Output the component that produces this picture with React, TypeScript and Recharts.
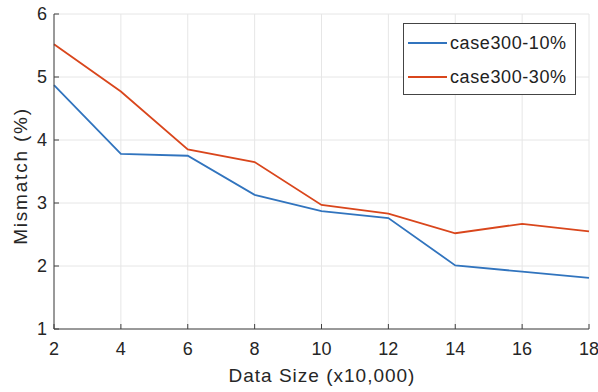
import { LineChart, Line, XAxis, YAxis, CartesianGrid, Legend } from "recharts";

const dataSize = [2, 4, 6, 8, 10, 12, 14, 16, 18];
const case10 = [4.87, 3.78, 3.75, 3.13, 2.87, 2.76, 2.01, 1.91, 1.81];
const case30 = [5.52, 4.77, 3.85, 3.65, 2.97, 2.83, 2.52, 2.67, 2.55];
const xTicks = [2, 4, 6, 8, 10, 12, 14, 16, 18];
const yTicks = [1, 2, 3, 4, 5, 6];

const BLUE = "#3174be";
const RED = "#d9461c";
const AXIS = "#404040";
const FONT = "'Liberation Sans', Arial, sans-serif";

const data = dataSize.map((x, i) => ({ x, a: case10[i], b: case30[i] }));

const series = [
  { key: "a", name: "case300-10%", color: BLUE },
  { key: "b", name: "case300-30%", color: RED },
];

// boxed legend, MATLAB style
const LegendBox = () => (
  <div
    style={{
      width: 171,
      height: 70,
      border: "1px solid #444",
      background: "#fff",
      fontFamily: FONT,
      fontSize: 18,
      letterSpacing: 0.6,
      color: "#222",
      boxSizing: "content-box",
    }}
  >
    {series.map((s, i) => (
      <div key={s.key} style={{ display: "flex", alignItems: "center", height: 34, marginTop: i === 0 ? 2 : 0 }}>
        <div style={{ width: 39, height: 2, background: s.color, marginLeft: 4, marginRight: 3 }} />
        <span>{s.name}</span>
      </div>
    ))}
  </div>
);

export default function App() {
  return (
    <div style={{ position: "absolute", left: 0, top: 0, background: "#fff" }}>
      <LineChart width={598} height={392} data={data} margin={{ top: 14, right: 9, left: 0, bottom: 0 }}>
        <CartesianGrid stroke="#e6e6e6" strokeWidth={1} />
        <XAxis
          dataKey="x"
          type="number"
          domain={[2, 18]}
          ticks={xTicks}
          height={63}
          stroke={AXIS}
          tickSize={-5}
          tickMargin={18}
          tick={{ fill: "#262626", fontSize: 18, fontFamily: FONT }}
          label={() => (
            <text x={322} y={382} textAnchor="middle" fill="#262626" fontSize={19} fontFamily={FONT} letterSpacing={1}>
              Data Size (x10,000)
            </text>
          )}
        />
        <XAxis xAxisId="top" dataKey="x" type="number" domain={[2, 18]} ticks={xTicks} orientation="top" height={0} stroke={AXIS} tickSize={-5} tick={false} />
        <YAxis
          type="number"
          domain={[1, 6]}
          ticks={yTicks}
          width={54}
          stroke={AXIS}
          tickSize={-5}
          tickMargin={12}
          tick={{ fill: "#262626", fontSize: 18, fontFamily: FONT }}
          label={() => (
            <text
              x={20}
              y={176}
              transform="rotate(-90 20 176)"
              textAnchor="middle"
              dominantBaseline="central"
              fill="#262626"
              fontSize={19}
              fontFamily={FONT}
              letterSpacing={1.8}
            >
              Mismatch (%)
            </text>
          )}
        />
        <YAxis yAxisId="right" type="number" domain={[1, 6]} ticks={yTicks} orientation="right" width={0} stroke={AXIS} tickSize={-5} tick={false} />
        <Legend
          layout="vertical"
          align="center"
          verticalAlign="middle"
          content={LegendBox}
          wrapperStyle={{ left: 403, top: 23, width: 173 }}
        />
        {series.map((s) => (
          <Line
            key={s.key}
            type="linear"
            dataKey={s.key}
            name={s.name}
            stroke={s.color}
            strokeWidth={1.8}
            dot={false}
            isAnimationActive={false}
          />
        ))}
      </LineChart>
    </div>
  );
}
